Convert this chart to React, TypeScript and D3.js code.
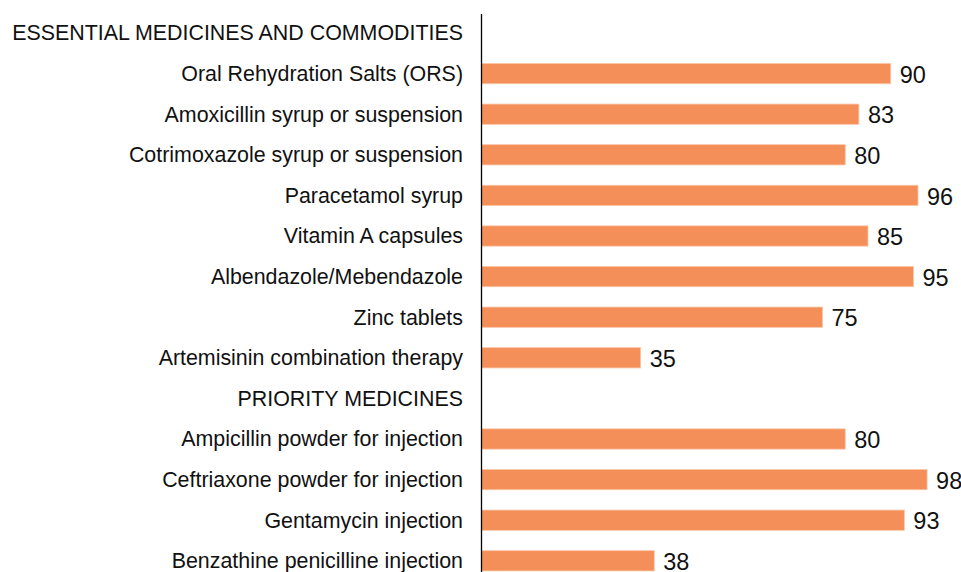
import React from "react";
import * as d3 from "d3";

const categories = [
  "ESSENTIAL MEDICINES AND COMMODITIES",
  "Oral Rehydration Salts (ORS)",
  "Amoxicillin syrup or suspension",
  "Cotrimoxazole syrup or suspension",
  "Paracetamol syrup",
  "Vitamin A capsules",
  "Albendazole/Mebendazole",
  "Zinc tablets",
  "Artemisinin combination therapy",
  "PRIORITY MEDICINES",
  "Ampicillin powder for injection",
  "Ceftriaxone powder for injection",
  "Gentamycin injection",
  "Benzathine penicilline injection",
];
const values: (number | null)[] = [null, 90, 83, 80, 96, 85, 95, 75, 35, null, 80, 98, 93, 38];

const W = 961;
const H = 572;
const axisX = 481.5;

export default function App() {
  const x = d3.scaleLinear().domain([0, 100]).range([axisX, axisX + 454.7]);
  const y = d3
    .scaleBand<string>()
    .domain(categories)
    .range([12.7, 12.7 + 40.6 * categories.length])
    .paddingInner(0.5)
    .paddingOuter(0.25);
  const font = "'Liberation Sans', Arial, sans-serif";
  return (
    <svg
      width={W}
      height={H}
      style={{ position: "absolute", left: 0, top: 0, background: "#fff" }}
      fontFamily={font}
    >
      {categories.map((c, i) => {
        const v = values[i];
        const cy = (y(c) as number) + y.bandwidth() / 2;
        return (
          <g key={c}>
            <text x={463} y={cy} dy="0.35em" textAnchor="end" fontSize={21.4} fill="#111">
              {c}
            </text>
            {v !== null && (
              <>
                <rect
                  x={x(0)}
                  y={y(c)}
                  width={x(v) - x(0)}
                  height={y.bandwidth()}
                  fill="#F58F5A"
                  stroke="#F9C7A9"
                  strokeWidth={0.8}
                />
                <text x={x(v) + 9} y={cy + 1} dy="0.35em" fontSize={23.5} fill="#111">
                  {v}
                </text>
              </>
            )}
          </g>
        );
      })}
      <line x1={axisX} x2={axisX} y1={14} y2={H} stroke="#000" strokeWidth={1.3} />
    </svg>
  );
}
